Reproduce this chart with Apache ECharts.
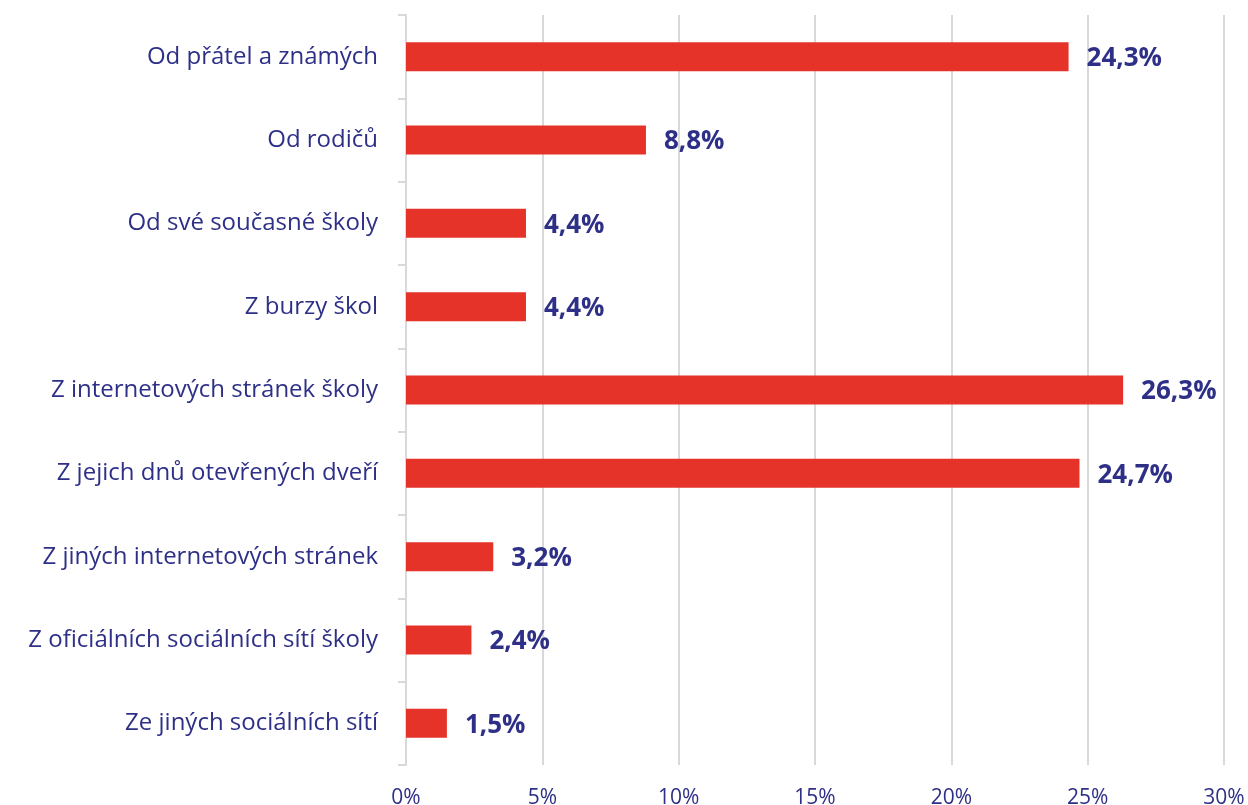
<!DOCTYPE html>
<html>
<head>
<meta charset="utf-8">
<script src="https://cdn.jsdelivr.net/npm/echarts@6/dist/echarts.min.js"></script>
<style>html,body{margin:0;padding:0;background:#fff}#c{width:1248px;height:805px}</style>
</head>
<body>
<div id="c"></div>
<script>
const categories = [
  "Od přátel a známých",
  "Od rodičů",
  "Od své současné školy",
  "Z burzy škol",
  "Z internetových stránek školy",
  "Z jejich dnů otevřených dveří",
  "Z jiných internetových stránek",
  "Z oficiálních sociálních sítí školy",
  "Ze jiných sociálních sítí"
];
const values = [24.3, 8.8, 4.4, 4.4, 26.3, 24.7, 3.2, 2.4, 1.5];
const xTicks = [0, 5, 10, 15, 20, 25, 30];

const navy = '#2E3087';
const font = '"Open Sans", "Noto Sans", sans-serif';
const chart = echarts.init(document.getElementById('c'));
chart.setOption({
  animation: false,
  grid: { left: 406, right: 24, top: 15, bottom: 40, containLabel: false, outerBoundsMode: 'none' },
  xAxis: {
    type: 'value', min: xTicks[0], max: xTicks[xTicks.length - 1], interval: 5,
    axisLine: { show: false }, axisTick: { show: false },
    splitLine: { show: true, lineStyle: { color: '#D9D9D9', width: 2 } },
    axisLabel: { color: navy, fontSize: 21, fontFamily: font, margin: 23,
      formatter: v => v + '%' }
  },
  yAxis: {
    type: 'category', data: categories, inverse: true,
    axisLine: { show: true, lineStyle: { color: '#D9D9D9', width: 2 } },
    axisTick: { show: true, length: 8, alignWithLabel: false, lineStyle: { color: '#D9D9D9', width: 2 } },
    axisLabel: { color: navy, fontSize: 24, fontFamily: font, margin: 28 }
  },
  series: [{
    type: 'bar', data: values, barWidth: 29,
    itemStyle: { color: '#E5332A' },
    label: { show: true, position: 'right', distance: 18, color: navy,
      fontSize: 26, fontWeight: 'bold', fontFamily: font, offset: [0, 2],
      formatter: p => p.value.toFixed(1).replace('.', ',') + '%' }
  }]
});
</script>
</body>
</html>
